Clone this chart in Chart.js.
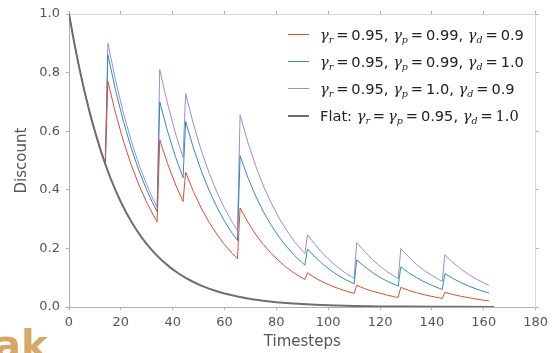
<!DOCTYPE html>
<html>
<head>
<meta charset="utf-8">
<script src="https://cdn.jsdelivr.net/npm/chart.js@4.4.0/dist/chart.umd.min.js"></script>
<style>
  body { margin: 0; background: #fff; overflow: hidden; }
  #wrap { position: relative; width: 553px; height: 353px; overflow: hidden; }
  #legend { position: absolute; left: 288px; top: 21px; font-family: "DejaVu Sans", sans-serif; font-size: 14.6px; color: #222; }
  #legend .row { height: 27px; display: flex; align-items: center; white-space: nowrap; }
  #legend .swatch { width: 21px; margin-right: 11px; }
  #legend .m { font-family: "DejaVu Serif", serif; font-style: italic; }
  #legend .eq { font-family: "DejaVu Serif", serif; }
  #legend sub { font-size: 9.5px; vertical-align: -3px; line-height: 0; }
  #mark { position: absolute; left: -6px; top: 325px; font-family: "DejaVu Sans", sans-serif; font-weight: bold; font-size: 40px; color: #d6a866; line-height: 1; }
</style>
</head>
<body>
<div id="wrap">
  <canvas id="discountChart" width="553" height="353"></canvas>
  <div id="legend"></div>
  <div id="mark">ak</div>
</div>
<script>
// Timesteps sampled for the three hierarchical curves
const TIMESTEPS = [0, 3, 6, 9, 12, 14,
  15, 18, 21, 24, 27, 30, 32, 34,
  35, 38, 41, 44,
  45, 48, 51, 54, 57, 60, 63, 65,
  66, 69, 72, 75, 78, 81, 84, 87, 90, 91,
  92, 95, 98, 101, 104, 107, 110,
  111, 114, 117, 120, 123, 126, 127,
  128, 131, 134, 137, 140, 143, 144,
  145, 148, 151, 154, 157, 160, 162];

// gamma_r=0.95, gamma_p=0.99, gamma_d=0.9
const RED = [1.0, 0.857, 0.735, 0.630, 0.540, 0.488,
  0.770, 0.660, 0.566, 0.485, 0.416, 0.357, 0.322, 0.291,
  0.571, 0.490, 0.420, 0.360,
  0.460, 0.394, 0.338, 0.290, 0.249, 0.213, 0.183, 0.165,
  0.338, 0.290, 0.248, 0.213, 0.183, 0.157, 0.134, 0.115, 0.099, 0.094,
  0.116, 0.099, 0.085, 0.073, 0.063, 0.054, 0.046,
  0.074, 0.063, 0.054, 0.047, 0.040, 0.034, 0.033,
  0.067, 0.057, 0.049, 0.042, 0.036, 0.031, 0.029,
  0.050, 0.043, 0.037, 0.032, 0.027, 0.023, 0.021];

// gamma_r=0.95, gamma_p=0.99, gamma_d=1.0
const BLUE = [1.0, 0.857, 0.735, 0.630, 0.540, 0.488,
  0.861, 0.738, 0.633, 0.543, 0.465, 0.399, 0.360, 0.325,
  0.700, 0.600, 0.515, 0.441,
  0.633, 0.543, 0.465, 0.399, 0.342, 0.293, 0.251, 0.227,
  0.516, 0.442, 0.379, 0.325, 0.279, 0.239, 0.205, 0.176, 0.151, 0.143,
  0.198, 0.170, 0.146, 0.125, 0.107, 0.092, 0.079,
  0.161, 0.138, 0.118, 0.101, 0.087, 0.075, 0.071,
  0.137, 0.117, 0.101, 0.086, 0.074, 0.063, 0.060,
  0.114, 0.098, 0.084, 0.072, 0.062, 0.053, 0.048];

// gamma_r=0.95, gamma_p=1.0, gamma_d=0.9
const PURPLE = [1.0, 0.857, 0.735, 0.630, 0.540, 0.488,
  0.900, 0.772, 0.662, 0.567, 0.486, 0.417, 0.376, 0.340,
  0.810, 0.695, 0.595, 0.510,
  0.728, 0.624, 0.535, 0.459, 0.393, 0.337, 0.289, 0.261,
  0.656, 0.562, 0.482, 0.413, 0.355, 0.304, 0.261, 0.223, 0.192, 0.182,
  0.247, 0.212, 0.182, 0.156, 0.133, 0.114, 0.098,
  0.220, 0.189, 0.162, 0.139, 0.119, 0.102, 0.097,
  0.199, 0.171, 0.146, 0.125, 0.108, 0.092, 0.088,
  0.178, 0.153, 0.131, 0.112, 0.096, 0.082, 0.074];

// Flat discount curve
const FLAT_STEPS = [0, 2, 4, 6, 8, 10, 12, 14, 16, 18, 20, 22, 24, 26, 28, 30,
  33, 36, 39, 42, 45, 48, 51, 54, 57, 60,
  65, 70, 75, 80, 85, 90, 95, 100, 110, 120, 130, 140, 150, 164];
const FLAT = [1.0, 0.9025, 0.8145, 0.7351, 0.6634, 0.5987, 0.5404, 0.4877, 0.4401, 0.3972, 0.3585, 0.3235, 0.2920, 0.2635, 0.2378, 0.2146,
  0.1840, 0.1578, 0.1353, 0.1160, 0.0994, 0.0853, 0.0731, 0.0627, 0.0537, 0.0461,
  0.0356, 0.0276, 0.0213, 0.0165, 0.0128, 0.0099, 0.0076, 0.0059, 0.0035, 0.0021, 0.0013, 0.0008, 0.0005, 0.0002];

const X_TICKS = [0, 20, 40, 60, 80, 100, 120, 140, 160, 180];
const Y_TICKS = [0.0, 0.2, 0.4, 0.6, 0.8, 1.0];

const LEGEND_HTML = [
  '<i class="m">γ<sub>r</sub></i><span class="eq">&thinsp;=&thinsp;</span>0.95, <i class="m">γ<sub>p</sub></i><span class="eq">&thinsp;=&thinsp;</span>0.99, <i class="m">γ<sub>d</sub></i><span class="eq">&thinsp;=&thinsp;</span>0.9',
  '<i class="m">γ<sub>r</sub></i><span class="eq">&thinsp;=&thinsp;</span>0.95, <i class="m">γ<sub>p</sub></i><span class="eq">&thinsp;=&thinsp;</span>0.99, <i class="m">γ<sub>d</sub></i><span class="eq">&thinsp;=&thinsp;</span>1.0',
  '<i class="m">γ<sub>r</sub></i><span class="eq">&thinsp;=&thinsp;</span>0.95, <i class="m">γ<sub>p</sub></i><span class="eq">&thinsp;=&thinsp;</span>1.0, <i class="m">γ<sub>d</sub></i><span class="eq">&thinsp;=&thinsp;</span>0.9',
  'Flat: <i class="m">γ<sub>r</sub></i><span class="eq">&thinsp;=&thinsp;</span><i class="m">γ<sub>p</sub></i><span class="eq">&thinsp;=&thinsp;</span>0.95, <i class="m">γ<sub>d</sub></i><span class="eq">&thinsp;=&thinsp;</span><span class="eq">1.0</span>'
];

function toPoints(xs, ys) {
  return xs.map((x, i) => ({ x: x, y: ys[i] }));
}

const tickFont = { family: "DejaVu Sans", size: 13 };
const axisGrid = { display: true, drawOnChartArea: false, drawTicks: true, tickLength: 3, color: "#aaaaaa" };

const datasets = [
  { label: "γr = 0.95, γp = 0.99, γd = 0.9", data: toPoints(TIMESTEPS, RED), borderColor: "#E24A33", borderWidth: 1, order: 1 },
  { label: "γr = 0.95, γp = 0.99, γd = 1.0", data: toPoints(TIMESTEPS, BLUE), borderColor: "#348ABD", borderWidth: 1, order: 2 },
  { label: "γr = 0.95, γp = 1.0, γd = 0.9", data: toPoints(TIMESTEPS, PURPLE), borderColor: "#988ED5", borderWidth: 1, order: 3 },
  { label: "Flat: γr = γp = 0.95, γd = 1.0", data: toPoints(FLAT_STEPS, FLAT), borderColor: "#6e6e6e", borderWidth: 2, order: 0 }
];

const chart = new Chart(document.getElementById("discountChart"), {
  type: "line",
  data: { datasets: datasets },
  options: {
    responsive: false,
    animation: false,
    layout: { padding: { left: 0, right: 13, top: 14, bottom: 0 } },
    elements: { point: { radius: 0 }, line: { tension: 0 } },
    plugins: { legend: { display: false }, tooltip: { enabled: false } },
    scales: {
      x: {
        type: "linear", position: "bottom", min: 0, max: 180,
        afterBuildTicks: s => { s.ticks = X_TICKS.map(v => ({ value: v })); },
        afterFit: s => { s.height = 46; },
        ticks: { font: tickFont, color: "#555555", padding: 5, maxRotation: 0 },
        grid: axisGrid,
        border: { display: true, color: "#b0b0b0" },
        title: { display: true, text: "Timesteps", font: { family: "DejaVu Sans", size: 15 }, color: "#555555", padding: { top: 0, bottom: 2 } }
      },
      x2: {
        type: "linear", position: "top", min: 0, max: 180,
        afterBuildTicks: s => { s.ticks = X_TICKS.map(v => ({ value: v })); },
        afterFit: s => { s.height = 0; },
        ticks: { display: false },
        grid: axisGrid,
        border: { display: true, color: "#d6d6d6" }
      },
      y: {
        type: "linear", position: "left", min: 0, max: 1,
        afterBuildTicks: s => { s.ticks = Y_TICKS.map(v => ({ value: v })); },
        afterFit: s => { s.width = 69; },
        ticks: { font: tickFont, color: "#555555", padding: 6, callback: v => v.toFixed(1) },
        grid: axisGrid,
        border: { display: true, color: "#b0b0b0" },
        title: { display: true, text: "Discount", font: { family: "DejaVu Sans", size: 15 }, color: "#555555", padding: { top: 13, bottom: 0 } }
      },
      y2: {
        type: "linear", position: "right", min: 0, max: 1,
        afterBuildTicks: s => { s.ticks = Y_TICKS.map(v => ({ value: v })); },
        afterFit: s => { s.width = 0; },
        ticks: { display: false },
        grid: axisGrid,
        border: { display: true, color: "#d6d6d6" }
      }
    }
  }
});

// HTML legend so the subscripts can be real text
const legendEl = document.getElementById("legend");
datasets.forEach((ds, i) => {
  const row = document.createElement("div");
  row.className = "row";
  const sw = document.createElement("div");
  sw.className = "swatch";
  sw.style.borderTop = (ds.borderWidth + (i === 3 ? 0.5 : 0)) + "px solid " + ds.borderColor;
  row.appendChild(sw);
  const txt = document.createElement("span");
  txt.innerHTML = LEGEND_HTML[i];
  row.appendChild(txt);
  legendEl.appendChild(row);
});
</script>
</body>
</html>
